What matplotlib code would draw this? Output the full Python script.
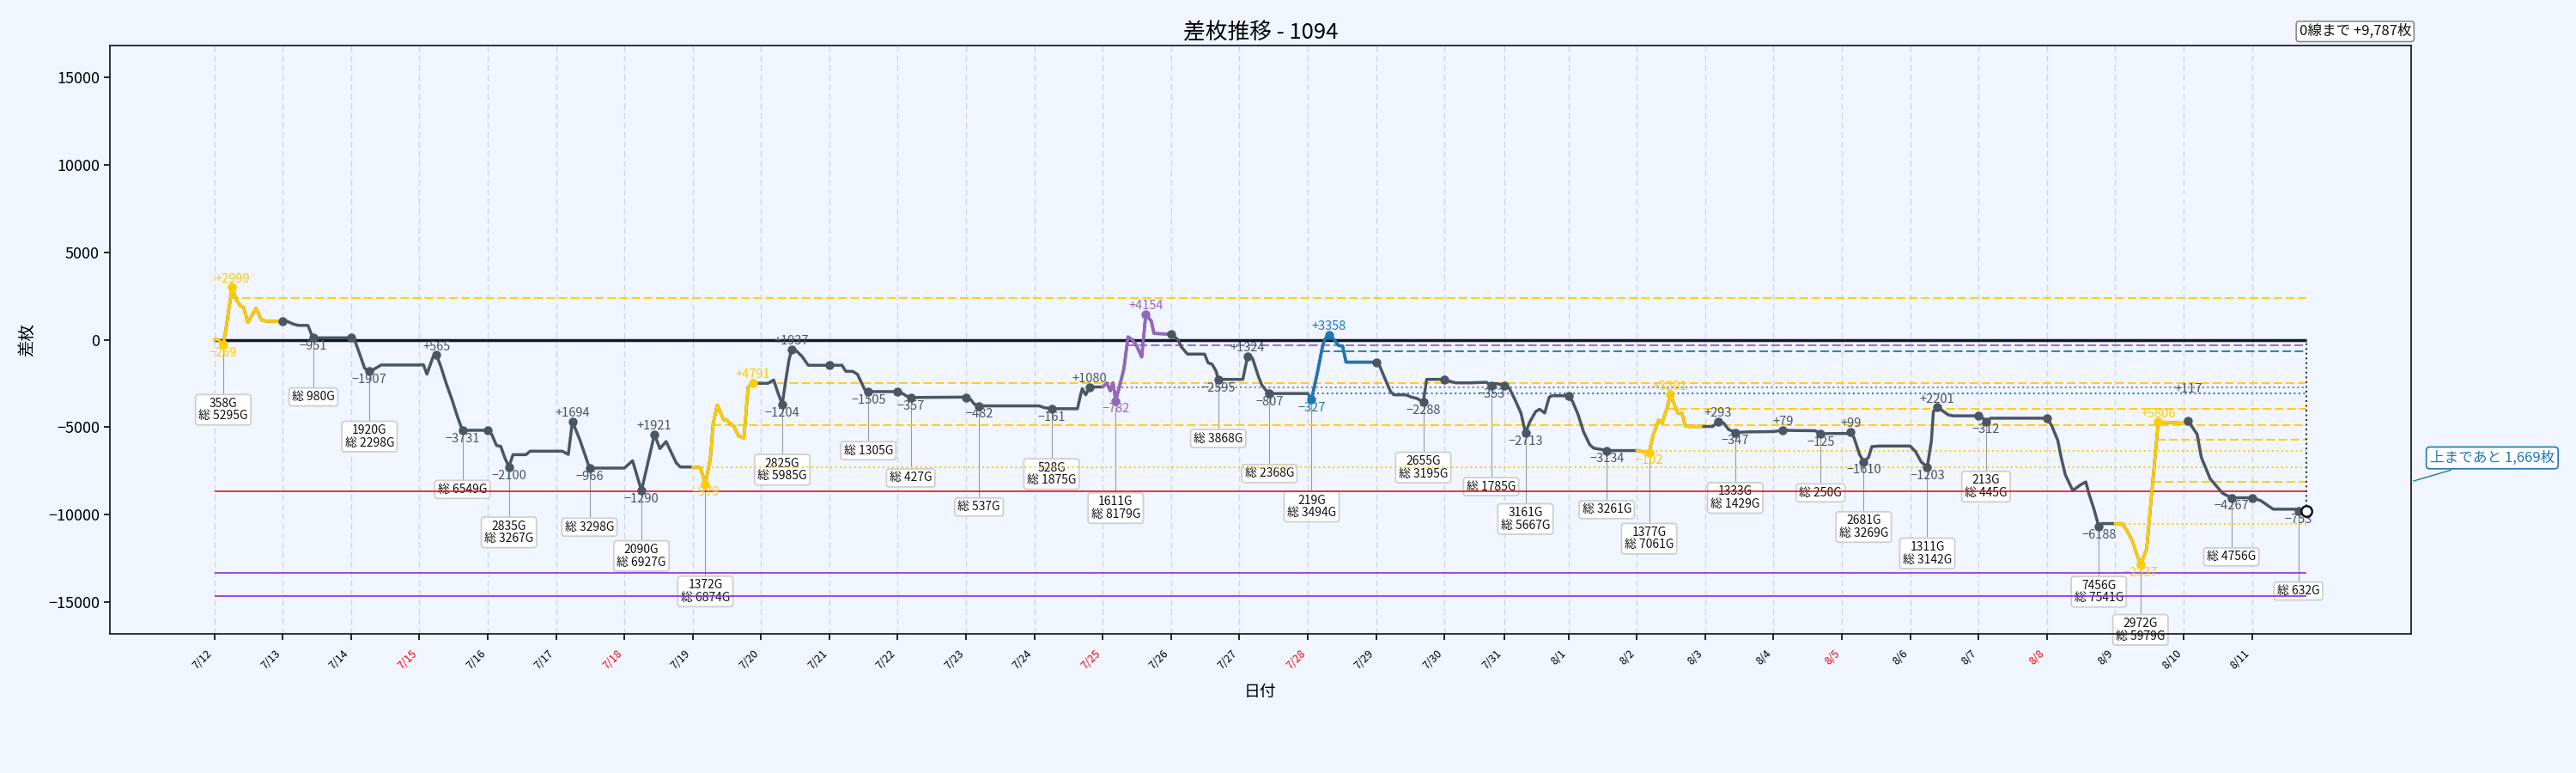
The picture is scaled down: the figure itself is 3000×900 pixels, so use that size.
import matplotlib
matplotlib.use('Agg')
import matplotlib.pyplot as plt
import matplotlib.transforms as mtransforms
import numpy as np

plt.rcParams['font.family'] = ['Noto Sans CJK JP', 'DejaVu Sans']

machine_no = '1094'

dates = ['7/12', '7/13', '7/14', '7/15', '7/16', '7/17', '7/18', '7/19', '7/20', '7/21',
         '7/22', '7/23', '7/24', '7/25', '7/26', '7/27', '7/28', '7/29', '7/30', '7/31',
         '8/1', '8/2', '8/3', '8/4', '8/5', '8/6', '8/7', '8/8', '8/9', '8/10', '8/11']

# relative length of each day on the x axis (short days had fewer samples)
day_len = [1, 1, 1, 1, 1, 1, 1, 1, 1, 1, 1, 1, 1, 1, 1, 1, 1, 1, 0.875, 0.94,
           1, 1, 1, 1, 1, 1, 1, 1, 1, 1, 0.8]

# intraday samples: position inside the day (0..1) and cumulative 差枚
day_fracs = [
    [0, 0.06, 0.13, 0.17, 0.26, 0.32, 0.38, 0.43, 0.49, 0.61, 0.69, 0.77, 1.0],
    [0, 0.06, 0.15, 0.23, 0.37, 0.42, 0.45, 1.0],
    [0, 0.06, 0.12, 0.2, 0.27, 0.33, 0.44, 1.0],
    [0, 0.06, 0.11, 0.2, 0.25, 0.31, 0.39, 0.48, 0.56, 0.63, 1.0],
    [0, 0.06, 0.13, 0.19, 0.25, 0.31, 0.37, 0.56, 0.62, 1.0],
    [0, 0.09, 0.18, 0.24, 0.35, 0.49, 1.0],
    [0, 0.12, 0.25, 0.44, 0.52, 0.61, 0.76, 0.82, 1.0],
    [0, 0.11, 0.185, 0.26, 0.30, 0.36, 0.45, 0.50, 0.56, 0.60, 0.67, 0.75, 0.81, 0.88, 1.0],
    [0, 0.10, 0.185, 0.24, 0.31, 0.37, 0.41, 0.45, 0.52, 0.60, 0.69, 1.0],
    [0, 0.185, 0.24, 0.34, 0.41, 0.48, 0.52, 0.57, 1.0],
    [0, 0.06, 0.12, 0.19, 0.29, 0.93, 1.0],
    [0, 0.07, 0.12, 0.19, 1.0],
    [0, 0.07, 0.14, 0.25, 0.63, 0.67, 0.70, 0.75, 0.81, 1.0],
    [0, 0.06, 0.11, 0.15, 0.19, 0.25, 0.31, 0.37, 0.43, 0.49, 0.57, 0.63, 0.71, 0.75, 0.93, 1.0],
    [0, 0.10, 0.15, 0.24, 0.49, 0.54, 0.60, 0.66, 0.69, 1.0],
    [0, 0.05, 0.12, 0.19, 0.28, 0.33, 0.39, 0.44, 1.0],
    [0, 0.056, 0.14, 0.22, 0.26, 0.31, 0.39, 0.45, 0.51, 0.56, 1.0],
    [0, 0.05, 0.12, 0.21, 0.26, 0.43, 0.52, 0.60, 0.69, 0.74, 1.0],
    [0, 0.06, 0.19, 0.44, 0.70, 0.78, 0.86, 1.0],
    [0, 0.08, 0.17, 0.26, 0.33, 0.40, 0.49, 0.55, 0.63, 0.70, 0.74, 1.0],
    [0, 0.06, 0.14, 0.22, 0.31, 0.37, 0.48, 0.56, 1.0],
    [0, 0.10, 0.18, 0.24, 0.32, 0.37, 0.44, 0.49, 0.55, 0.60, 0.66, 0.71, 0.75, 1.0],
    [0, 0.11, 0.19, 0.27, 0.34, 0.44, 0.61, 1.0],
    [0, 0.135, 0.30, 0.61, 0.69, 0.87, 1.0],
    [0, 0.07, 0.13, 0.18, 0.26, 0.32, 0.39, 0.44, 0.55, 1.0],
    [0, 0.08, 0.16, 0.25, 0.31, 0.34, 0.39, 0.47, 0.56, 0.63, 1.0],
    [0, 0.07, 0.11, 0.18, 1.0],
    [0, 0.07, 0.16, 0.21, 0.27, 0.38, 0.49, 0.57, 0.62, 0.69, 0.76, 0.80, 1.0],
    [0, 0.1, 0.17, 0.25, 0.29, 0.37, 0.46, 0.63, 1.0],
    [0, 0.07, 0.2, 0.26, 0.39, 0.57, 0.70, 1.0],
    [0, 0.16, 0.39, 0.81, 0.85, 1.0],
]
day_vals = [
    [0, 0, -269, 620, 2999, 2300, 1940, 1850, 990, 1800, 1120, 1060, 1060],
    [1060, 1060, 900, 820, 820, 320, 109, 109],
    [109, -100, -740, -1640, -1798, -1700, -1445, -1445],
    [-1445, -1430, -1970, -985, -880, -1480, -2460, -3450, -4430, -5176, -5176],
    [-5176, -5420, -6050, -6090, -6740, -7276, -6570, -6570, -6371, -6371],
    [-6371, -6371, -6556, -4677, -5735, -7337, -7337],
    [-7337, -6915, -8627, -5416, -6226, -5818, -7048, -7274, -7274],
    [-7274, -7307, -8253, -6732, -4762, -3744, -4565, -4598, -4844, -4926, -5500, -5616, -2709, -2483, -2490],
    [-2490, -2490, -2299, -2956, -3694, -2100, -1130, -553, -650, -953, -1460, -1460],
    [-1460, -1460, -1806, -1806, -1970, -2545, -2874, -2965, -2965],
    [-2965, -3050, -3200, -3322, -3300, -3280, -3300],
    [-3300, -3430, -3680, -3782, -3782],
    [-3782, -3782, -3880, -3943, -3943, -3250, -2792, -3150, -2702, -2702],
    [-2702, -2463, -2923, -2463, -3484, -2600, -1642, 164, 0, -300, -985, 1452, 1067, 361, 328, 328],
    [328, 0, -410, -821, -821, -1313, -1400, -1806, -2267, -2267],
    [-2267, -2267, -943, -1050, -2120, -2600, -2900, -3074, -3074],
    [-3074, -3401, -1900, -300, 82, 284, -10, -328, -360, -1280, -1280],
    [-1280, -1480, -2134, -2956, -3150, -3150, -3280, -3360, -3568, -2266, -2266],
    [-2266, -2350, -2463, -2463, -2430, -2619, -2500, -2600],
    [-2600, -2770, -3448, -4187, -5313, -4680, -4105, -3974, -4187, -3284, -3202, -3202],
    [-3202, -3530, -4270, -5255, -5994, -6200, -6270, -6336, -6336],
    [-6336, -6400, -6438, -5450, -4598, -4760, -3941, -3135, -3700, -4187, -4187, -4926, -4959, -4959],
    [-4959, -4959, -4666, -4760, -5120, -5306, -5270, -5250],
    [-5250, -5171, -5190, -5200, -5375, -5360, -5360],
    [-5360, -5360, -5261, -5620, -6568, -6970, -6732, -6108, -6075, -6075],
    [-6075, -6400, -6978, -7278, -5800, -4105, -3874, -4050, -4300, -4350, -4350],
    [-4350, -4500, -4662, -4485, -4485],
    [-4485, -4900, -5747, -6732, -7717, -8620, -8300, -8128, -8850, -9689, -10673, -10509, -10509],
    [-10509, -10509, -10898, -11474, -11966, -12846, -11966, -4703, -4767],
    [-4767, -4650, -5410, -6718, -7948, -8769, -9034, -9034],
    [-9034, -9194, -9686, -9686, -9787, -9787],
]

# games since last hit (None = no line) and total games of the day
hit_games = [358, None, 1920, None, 2835, None, 2090, 1372, 2825, None, None, None, 528, 1611,
             None, None, 219, 2655, None, 3161, None, 1377, 1333, None, 2681, 1311, 213, 7456,
             2972, None, None]
total_games = [5295, 980, 2298, 6549, 3267, 3298, 6927, 6874, 5985, 1305, 427, 537, 1875, 8179,
               3868, 2368, 3494, 3195, 1785, 5667, 3261, 7061, 1429, 250, 3269, 3142, 445, 7541,
               5979, 4756, 632]

# highlighted sessions: day, end of session inside the day, kind
session_day = [0, 7, 13, 16, 21, 28]
session_end = [0.97, 0.88, 0.93, 0.98, 0.94, 1.0]
session_kind = ['yellow', 'yellow', 'purple', 'blue', 'yellow', 'yellow']
session_step = 2391

ref_levels = [-8653, -13333, -14663]
ref_kind = ['red', 'violet', 'violet']

COL = {'gray': '#4b5563', 'yellow': '#ffcc00', 'purple': '#9467bd', 'blue': '#1f77b4',
       'red': '#e8141a', 'violet': '#8a2be2'}
BG = '#f0f5ff'

n = len(dates)
starts = np.concatenate([[0.0], np.cumsum(day_len)[:-1]])
x_end = float(np.sum(day_len))
day_x = [starts[d] + np.asarray(day_fracs[d]) * day_len[d] for d in range(n)]
X = np.concatenate([day_x[0]] + [day_x[d][1:] for d in range(1, n)])
Y = np.concatenate([np.asarray(day_vals[0], float)] +
                   [np.asarray(day_vals[d][1:], float) for d in range(1, n)])
final = Y[-1]

fig = plt.figure(figsize=(30, 9), dpi=100, facecolor=BG)
ax = fig.add_axes([0.0426, 0.1803, 0.8934, 0.7604], facecolor=BG)
ax.set_xlim(-0.05 * x_end, 1.05 * x_end)
ax.set_ylim(-16800, 16800)
renderer = fig.canvas.get_renderer()

# main line
ax.plot(X, Y, color=COL['gray'], lw=2.5, zorder=3, solid_joinstyle='round', solid_capstyle='round')

spans = []
dashed_levels = []
for d, f1, kind in zip(session_day, session_end, session_kind):
    x0, x1 = starts[d], starts[d] + f1 * day_len[d]
    m = (X > x0) & (X < x1)
    sx = np.concatenate([[x0], X[m], [x1]])
    sy = np.interp(sx, X, Y)
    c = COL[kind]
    spans.append((x0, x1, c))
    ax.plot(sx, sy, color=c, lw=2.5, zorder=3.5, solid_joinstyle='round', solid_capstyle='round')
    s = sy[0]
    ax.hlines(s, x0, x_end, colors=c, linestyles=':', lw=1.5, alpha=0.9, zorder=2.3)
    k = 1
    while s + k * session_step <= sy.max():
        lv = s + k * session_step
        i = int(np.argmax(sy >= lv))
        xc = np.interp(lv, [sy[i - 1], sy[i]], [sx[i - 1], sx[i]])
        ax.hlines(lv, xc, x_end, colors=c, linestyles=(0, (4.8, 2)), lw=1.5, alpha=0.9, zorder=2.3)
        dashed_levels.append(lv)
        k += 1


def color_at(x):
    for x0, x1, c in spans:
        if x0 <= x <= x1:
            return c
    return COL['gray']


for lv, kind in zip(ref_levels, ref_kind):
    ax.hlines(lv, 0, x_end, colors=COL[kind], lw=1.2, zorder=2.2)
ax.hlines(0, 0, x_end, colors='#111827', lw=2.5, zorder=2.6)
ax.vlines(x_end, final, 0, colors='#333333', linestyles=':', lw=1.5, zorder=2.5)


def overlaps(a, b, tol=0.0):
    return (min(a.x1, b.x1) - max(a.x0, b.x0) > tol) and (min(a.y1, b.y1) - max(a.y0, b.y0) > tol)


def shifted(dy):
    return mtransforms.offset_copy(ax.transData, fig=fig, x=0, y=dy, units='points')


# day high / low markers and labels
label_boxes = []
lows = []
for d in range(n):
    v = np.asarray(day_vals[d], float)
    xs = day_x[d]
    start = v[0]
    for i, up in ((int(np.argmax(v)), True), (int(np.argmin(v)), False)):
        c = color_at(xs[i])
        ax.plot(xs[i], v[i], 'o', ms=6.5, color=c, zorder=4)
        diff = int(round(v[i] - start))
        if (up and diff > 0) or (not up and diff < 0):
            s = f'+{diff}' if up else f'\u2212{-diff}'
            off = 2
            t = ax.text(xs[i], v[i], s, ha='center', va='bottom' if up else 'top',
                        fontsize=10.5, color=c, zorder=5)
            for _ in range(6):
                t.set_transform(shifted(off if up else -off))
                bb = t.get_window_extent(renderer)
                if not any(overlaps(bb, o) for o in label_boxes):
                    break
                off += 20
            label_boxes.append(bb)
        if not up:
            lows.append((xs[i], v[i]))

# game count boxes under each day low, pushed down a tier when crowded
inv = ax.transData.inverted()
placed = []
for d in range(n):
    x, v = lows[d]
    txt = f'{hit_games[d]}G\n総 {total_games[d]}G' if hit_games[d] else f'総 {total_games[d]}G'
    t = ax.text(x, v, txt, ha='center', va='top', fontsize=10, linespacing=1.05, color='#111111',
                bbox=dict(boxstyle='round,pad=0.25', fc='white', ec='#cfcfcf', lw=1.3), zorder=1.5)
    for tier in range(8):
        t.set_transform(shifted(-(44.5 + tier * 17.6)))
        bb = t.get_window_extent(renderer)
        cx, cy = (bb.x0 + bb.x1) / 2, (bb.y0 + bb.y1) / 2
        clash = any(abs(cx - px) < 85 and abs(cy - py) < 20 for px, py in placed)
        clash = clash or any(overlaps(bb, o, tol=6) for o in label_boxes)
        if not clash:
            break
    placed.append((cx, cy))
    y_top = inv.transform((cx, bb.y1 + 3.5))[1]
    ax.plot([x, x], [v, y_top], color='#9a9a9a', lw=0.8, zorder=1.4)

ax.plot(x_end, final, 'o', ms=9, mfc='white', mec='#111111', mew=1.8, zorder=6)

# info boxes
ax.text(1.0, 1.012, f'0線まで {-int(final):+,}枚', transform=ax.transAxes, ha='right', va='bottom',
        fontsize=12, color='#111111',
        bbox=dict(boxstyle='round,pad=0.2', fc='white', ec='#888888', lw=1.2))
above = [lv for lv in dashed_levels if lv > final]
if above:
    nxt = min(above)
    ax.annotate(f'上まであと {int(round(nxt - final)):,}枚', xy=(1.0, nxt),
                xycoords=('axes fraction', 'data'), xytext=(68, 20), textcoords='offset points',
                ha='center', va='center', fontsize=12, color='#1f77b4', annotation_clip=False,
                bbox=dict(boxstyle='round,pad=0.25', fc='white', ec='#1f77b4', lw=1.2),
                arrowprops=dict(arrowstyle='-', color='#1f77b4', lw=1.0))

# axes styling
ax.set_xticks(starts)
ax.set_xticklabels(dates, rotation=45, ha='right', fontsize=9)
for lab, dt in zip(ax.get_xticklabels(), dates):
    if int(dt.split('/')[1]) % 10 in (5, 8):
        lab.set_color('red')
ax.set_yticks([-15000, -10000, -5000, 0, 5000, 10000, 15000])
ax.tick_params(axis='x', length=5, width=1.2, pad=7)
ax.tick_params(axis='y', length=5, width=1.2, labelsize=13)
ax.set_axisbelow(True)
ax.grid(axis='x', color='#d3d6de', ls=(0, (5, 3)), lw=1.0)
for sp in ax.spines.values():
    sp.set_color('#222222')
    sp.set_linewidth(1.3)

ax.set_title(f'差枚推移 - {machine_no}', fontsize=18.5, pad=6)
ax.set_ylabel('差枚', fontsize=14)
ax.yaxis.set_label_coords(-0.032, 0.5)
ax.set_xlabel('日付', fontsize=13.5)
ax.xaxis.set_label_coords(0.5, -0.083)

fig.savefig('out.png', dpi=100, facecolor=BG)
